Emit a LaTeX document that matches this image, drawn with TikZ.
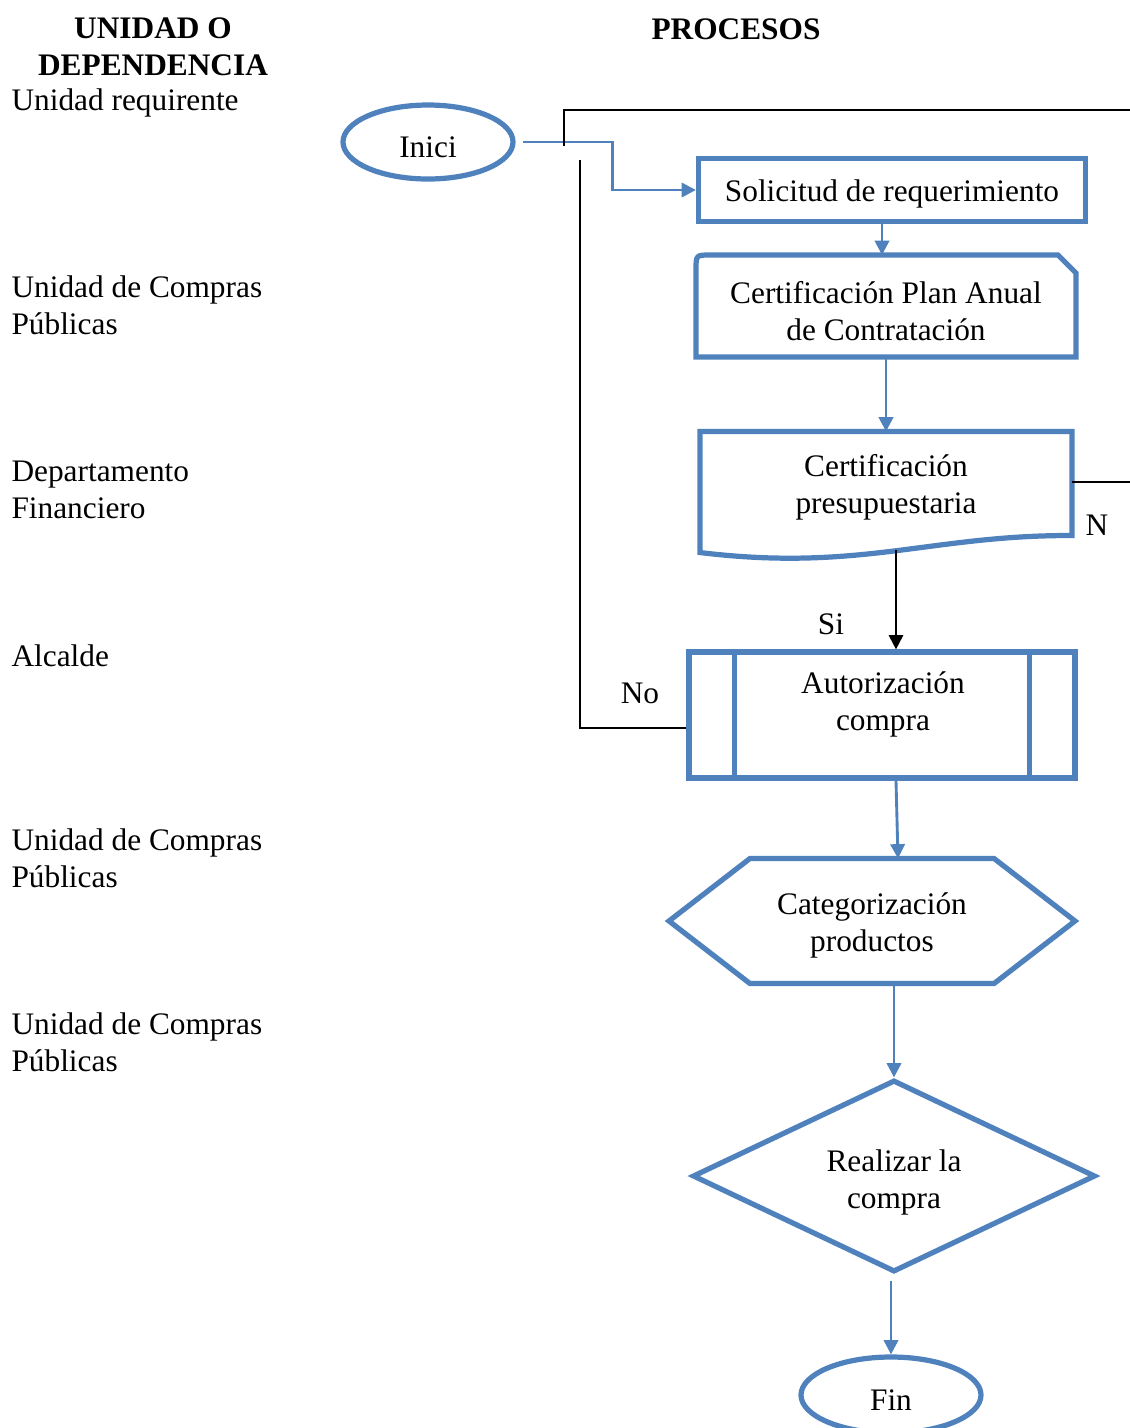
\documentclass[tikz,border=0pt]{standalone}
\usepackage{fontspec}
\setmainfont{Liberation Serif}
\usetikzlibrary{shapes.geometric,arrows.meta}
\definecolor{flowblue}{RGB}{79,129,189}
\newcommand{\pu}{0.01346cm}
\newcommand{\low}[2][1.5pt]{\raisebox{-#1}[\height][\depth]{\begin{tabular}{@{}c@{}}#2\end{tabular}}}

\begin{document}
\begin{tikzpicture}[x=\pu, y=-\pu,
    txt/.style={font=\fontsize{12}{14.2}\selectfont, inner sep=0pt, align=center},
    lbl/.style={txt, align=left, anchor=west},
    head/.style={txt, font=\fontsize{12}{14.2}\selectfont\bfseries},
    box/.style={txt, draw=flowblue, line width=2pt},
    flow/.style={draw=flowblue, line width=1.1pt, -{Triangle[length=5.5pt,width=5.5pt]}},
    ret/.style={draw=black, line width=0.8pt},
    yes/.style={ret, -{Triangle[length=5.5pt,width=5.5pt]}}]
            \useasboundingbox (0,0) rectangle (1130,1428);

            % Headings
            \node[head] (hunit) at (153,47) {UNIDAD O\\DEPENDENCIA};
            \node[head] (hproc) at (736,29) {PROCESOS};

            % Units
            \node[lbl] (u1) at (11,103) {Unidad requirente};
            \node[lbl] (u2) at (11,305) {Unidad de Compras\\Públicas};
            \node[lbl] (u3) at (11,490) {Departamento\\Financiero};
            \node[lbl] (u4) at (11,656) {Alcalde};
            \node[lbl] (u5) at (11,858) {Unidad de Compras\\Públicas};
            \node[lbl] (u6) at (11,1042) {Unidad de Compras\\Públicas};

            % Steps
            \node[box, ellipse, minimum width=170*\pu, minimum height=74*\pu] (ini) at (428,142) {\low[3pt]{Inici}};
            \node[box, minimum width=387*\pu, minimum height=63*\pu] (sol) at (892,190) {\low{Solicitud de requerimiento}};
            \node[txt, minimum width=379*\pu, minimum height=101*\pu] (pac) at (886,306) {\low[3.2pt]{Certificación Plan Anual\\de Contratación}};
            \node[txt, minimum width=371*\pu, minimum height=100*\pu] (pres) at (886,482) {\low[2.3pt]{Certificación\\presupuestaria}};
            \node[box, minimum width=386*\pu, minimum height=126*\pu] (aut) at (882,715) {};
            \node[txt] (autt) at (883,704) {Autorización\\compra};
            \node[txt, minimum width=405*\pu, minimum height=124*\pu] (cat) at (872,921) {\low[1.9pt]{Categorización\\productos}};
            \node[box, diamond, aspect=2.1, minimum width=403*\pu, minimum height=192*\pu] (comp) at (894,1176) {\low[2.6pt]{Realizar la\\compra}};
            \node[box, ellipse, minimum width=180*\pu, minimum height=76*\pu] (fin) at (891,1395) {\low[3pt]{Fin}};

            % Outlines
            \draw[box] (pac.south west) -- ([yshift=-15*\pu]pac.north west) .. controls (pac.north west) .. ([xshift=15*\pu]pac.north west)
                -- ([xshift=-18*\pu]pac.north east) -- ([yshift=-18*\pu]pac.north east) -- (pac.south east) -- cycle;
            \draw[box] ([yshift=-20*\pu]pres.south west) -- (pres.north west) -- (pres.north east) -- ([yshift=-3*\pu]pres.south east)
                .. controls (930,535) and (860,572) .. cycle;
            \draw[box] ([xshift=48*\pu]aut.north west) -- ([xshift=48*\pu]aut.south west);
            \draw[box] ([xshift=-48*\pu]aut.north east) -- ([xshift=-48*\pu]aut.south east);
            \draw[box] (cat.west) -- ([xshift=81*\pu]cat.north west) -- ([xshift=-81*\pu]cat.north east) -- (cat.east)
                -- ([xshift=-81*\pu]cat.south east) -- ([xshift=81*\pu]cat.south west) -- cycle;

            % Flow
            \draw[flow] ([xshift=7*\pu]ini.east) -- ++(90,0) |- (sol.west);
            \draw[flow] ([xshift=-10*\pu]sol.south) -- ([xshift=-10*\pu]sol.south |- pac.north);
            \draw[flow] (pac.south) -- (pac.south |- pres.north);
            \coordinate (docout) at (896,550);
            \draw[yes] (docout) -- (docout |- aut.north);
            \node[txt] (si) at (831,624) {Si};
            \draw[flow] ([xshift=14*\pu]aut.south) -- ([xshift=16*\pu]aut.south |- cat.north);
            \draw[flow] (comp.north |- cat.south) -- (comp.north);
            \draw[flow] ([yshift=-6*\pu]fin.north |- comp.south) -- (fin.north);

            % Returns
            \coordinate (jn) at (564,146);
            \coordinate (top) at (1130,110);
            \draw[ret] (jn) |- (top);
            \coordinate (notop) at (580,160);
            \draw[ret] ([yshift=-13*\pu]aut.west) -| (notop);
            \node[txt] (no) at (640,693) {No};
            \coordinate (nend) at (1130,482);
            \draw[ret] (pres.east) -- (nend);
            \node[txt] (n) at (1097,525) {N};

        \end{tikzpicture}
\end{document}
